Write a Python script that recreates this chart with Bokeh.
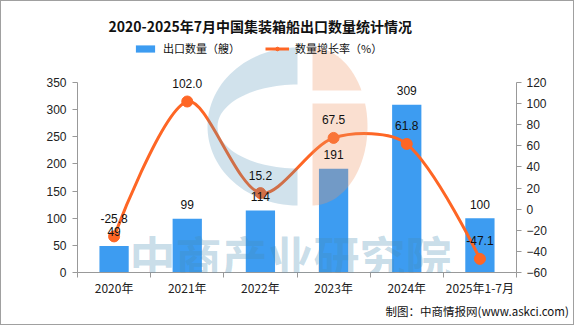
import numpy as np
from bokeh.plotting import figure
from bokeh.models import (Range1d, LinearAxis, FixedTicker, Legend, LegendItem,
                          Label, LabelSet, ColumnDataSource, Title)
from bokeh.core.properties import value
from bokeh.embed import file_html
from bokeh.resources import INLINE

# ---------------- data ----------------
categories = ["2020年", "2021年", "2022年", "2023年", "2024年", "2025年1-7月"]
export_count = [49, 99, 114, 191, 309, 100]
growth_rate = [-25.8, 102.0, 15.2, 67.5, 61.8, -47.1]
left_ticks = [0, 50, 100, 150, 200, 250, 300, 350]
right_ticks = [-60, -40, -20, 0, 20, 40, 60, 80, 100, 120]

TITLE = "2020-2025年7月中国集装箱船出口数量统计情况"
BAR_NAME = "出口数量（艘）"
LINE_NAME = "数量增长率（%）"
SOURCE = "制图：中商情报网(www.askci.com)"

BAR_COLOR = "#3d9cf1"
LINE_COLOR = "#fe6625"
AXIS_COLOR = "#999999"
CJK = "Noto Sans CJK SC"
NUM = "Liberation Sans"

# page-pixel layout (canvas is 574x325 inside a 1px css border)
W, H = 574, 325
FL, FR = 77, 516          # frame left / right
FT, PT, FB = 40, 82, 272  # frame top, top-tick position, frame bottom
ML, MR, MT, MB = FL - 1, W + 1 - FR, FT - 1, H + 1 - FB
FW = FR - FL
AX_H = FB - PT            # height of the drawn axes

n = len(categories)
xs = [i + 0.5 for i in range(n)]

l0, l1 = left_ticks[0], left_ticks[-1]
r0, r1 = right_ticks[0], right_ticks[-1]
l_end = l0 + (l1 - l0) * (FB - FT) / AX_H
r_end = r0 + (r1 - r0) * (FB - FT) / AX_H

p = figure(width=W, height=H, output_backend="svg", toolbar_location=None,
           x_range=Range1d(0, n), y_range=Range1d(l0, l_end),
           min_border_left=ML, min_border_right=MR, min_border_top=MT, min_border_bottom=MB,
           x_axis_type=None, y_axis_type=None)
p.styles = {"border": "1px solid #a0a0a0"}
p.outline_line_color = None
p.xgrid.visible = False
p.ygrid.visible = False
p.extra_y_ranges = {"rate": Range1d(r0, r_end)}

# title
p.title.text = TITLE
p.title.align = "left"
p.title.offset = 108 - FL
p.title.standoff = 9
p.title.text_font = CJK
p.title.text_font_size = "14px"
p.title.text_font_style = "bold"
p.title.text_color = "#111111"

def style_axis(ax, font):
    ax.axis_line_color = AXIS_COLOR
    ax.major_tick_line_color = AXIS_COLOR
    ax.minor_tick_line_color = AXIS_COLOR
    ax.major_label_text_font = font
    ax.major_label_text_font_size = "12px"
    ax.major_label_text_color = "#222222"

# x axis
xaxis = LinearAxis(ticker=FixedTicker(ticks=xs, minor_ticks=list(range(n + 1))))
xaxis.major_label_overrides = {x: c for x, c in zip(xs, categories)}
style_axis(xaxis, CJK)
xaxis.major_tick_line_color = None
xaxis.major_tick_out = 0
xaxis.minor_tick_in = 0
xaxis.minor_tick_out = 5
xaxis.major_label_standoff = 1
p.add_layout(xaxis, "below")

# left axis
yaxis = LinearAxis(ticker=FixedTicker(ticks=left_ticks), bounds=(l0, l1))
style_axis(yaxis, NUM)
yaxis.major_tick_in = 0
yaxis.major_tick_out = 5
yaxis.major_label_standoff = 6
p.add_layout(yaxis, "left")

# right axis
raxis = LinearAxis(y_range_name="rate", ticker=FixedTicker(ticks=right_ticks), bounds=(r0, r1))
style_axis(raxis, NUM)
raxis.major_tick_in = 0
raxis.major_tick_out = 5
raxis.major_label_standoff = 5
p.add_layout(raxis, "right")

# source note below the axis
p.add_layout(Title(text=SOURCE, align="left", offset=385 - FL, standoff=4,
                   text_font=CJK, text_font_size="11.5px", text_font_style="normal",
                   text_color="#111111"), "below")

# bars
bar_src = ColumnDataSource(dict(x=xs, y=export_count, lbl=[str(v) for v in export_count]))
bars = p.vbar(x="x", top="y", width=0.4, bottom=0, source=bar_src,
              fill_color=BAR_COLOR, line_color=None)

# smooth line (echarts-like bezier smoothing, computed in pixel space)
sx = FW / n
sy = AX_H / (r1 - r0)
P = np.array([[x * sx, y * sy] for x, y in zip(xs, growth_rate)])
smooth = 0.3
seg = dict(x0=[], y0=[], x1=[], y1=[], cx0=[], cy0=[], cx1=[], cy1=[])
cp0 = P[0].copy()
for k in range(1, n):
    cur, prev = P[k], P[k - 1]
    if k == n - 1:
        ncp = cur.copy()
        v = np.zeros(2)
        ratio = 0.5
    else:
        nxt = P[k + 1]
        v = nxt - prev
        lp = np.hypot(*(cur - prev))
        ln = np.hypot(*(nxt - cur))
        ratio = ln / (ln + lp)
        ncp = cur - v * smooth * (1 - ratio)
    seg["x0"].append(prev[0] / sx); seg["y0"].append(prev[1] / sy)
    seg["x1"].append(cur[0] / sx); seg["y1"].append(cur[1] / sy)
    seg["cx0"].append(cp0[0] / sx); seg["cy0"].append(cp0[1] / sy)
    seg["cx1"].append(ncp[0] / sx); seg["cy1"].append(ncp[1] / sy)
    cp0 = cur + v * smooth * ratio
p.bezier(x0="x0", y0="y0", x1="x1", y1="y1", cx0="cx0", cy0="cy0", cx1="cx1", cy1="cy1",
         source=ColumnDataSource(seg), y_range_name="rate",
         line_color=LINE_COLOR, line_width=3)
rate_src = ColumnDataSource(dict(x=xs, y=growth_rate, lbl=["%.1f" % v for v in growth_rate]))
dots = p.scatter(x="x", y="y", source=rate_src, y_range_name="rate", size=11,
                 fill_color=LINE_COLOR, line_color=LINE_COLOR)
# one-point line: invisible on the chart, gives the legend its line swatch
leg_line = p.line(x=xs[:1], y=growth_rate[:1], y_range_name="rate",
                  line_color=LINE_COLOR, line_width=3)

# value labels
p.add_layout(LabelSet(x="x", y="y", text="lbl", source=bar_src, text_align="center",
                      text_baseline="middle", y_offset=14, text_font=value(NUM),
                      text_font_size="12px", text_color="#111111"))
p.add_layout(LabelSet(x="x", y="y", text="lbl", source=rate_src, y_range_name="rate",
                      text_align="center", text_baseline="middle", y_offset=18,
                      text_font=value(NUM), text_font_size="12px", text_color="#111111"))

# watermark (decoration, page-pixel geometry) ---------------------------
def dx(px):
    return (px - FL) / FW * n

def dy(py):
    return l0 + (FB - py) / AX_H * (l1 - l0)

t_out = np.linspace(np.pi / 2, 3 * np.pi / 2, 60)
t_in = t_out[::-1]
bx = list(297 + 90 * np.cos(t_out)) + list(297 + 80 * np.cos(t_in))
by = list(126 - 79 * np.sin(t_out)) + list(126 - 42 * np.sin(t_in))
p.patch([dx(v) for v in bx], [dy(v) for v in by], fill_color="#468cb4", fill_alpha=0.25,
        line_color=None)
a1, a2 = np.arcsin(36 / 79), np.arcsin(23 / 79)
tt = np.linspace(np.pi / 2, a1, 40)
ox = list(312 + 55 * np.cos(tt)) + [312]
oy = list(126 - 79 * np.sin(tt)) + [126 - 79 * np.sin(a1)]
p.patch([dx(v) for v in ox], [dy(v) for v in oy], fill_color="#f09664", fill_alpha=0.3,
        line_color=None)
tb = np.linspace(a2, -np.pi / 2, 60)
ox = list(312 + 55 * np.cos(tb)) + [312]
oy = list(126 - 79 * np.sin(tb)) + [126 - 79 * np.sin(a2)]
p.patch([dx(v) for v in ox], [dy(v) for v in oy], fill_color="#f09664", fill_alpha=0.3,
        line_color=None)
p.add_layout(Label(x=dx(290), y=dy(254), text="中商产业研究院", text_align="center",
                   text_baseline="middle", text_font=CJK, text_font_size="46px",
                   text_font_style="bold", text_color="#468cb4", text_alpha=0.3))

# legend (inside the frame's top strip, above the axes)
legend = Legend(items=[LegendItem(label=BAR_NAME, renderers=[bars]),
                       LegendItem(label=LINE_NAME, renderers=[leg_line, dots])],
                orientation="horizontal", location=(133 - FL, FB - 56),
                label_text_font=CJK, label_text_font_size="11px",
                label_text_color="#111111", glyph_width=24, glyph_height=9,
                label_height=14, spacing=25, label_standoff=6, padding=0, margin=0,
                border_line_color=None, background_fill_alpha=0)
p.add_layout(legend, "center")

open("out.html", "w").write(file_html(p, INLINE))
